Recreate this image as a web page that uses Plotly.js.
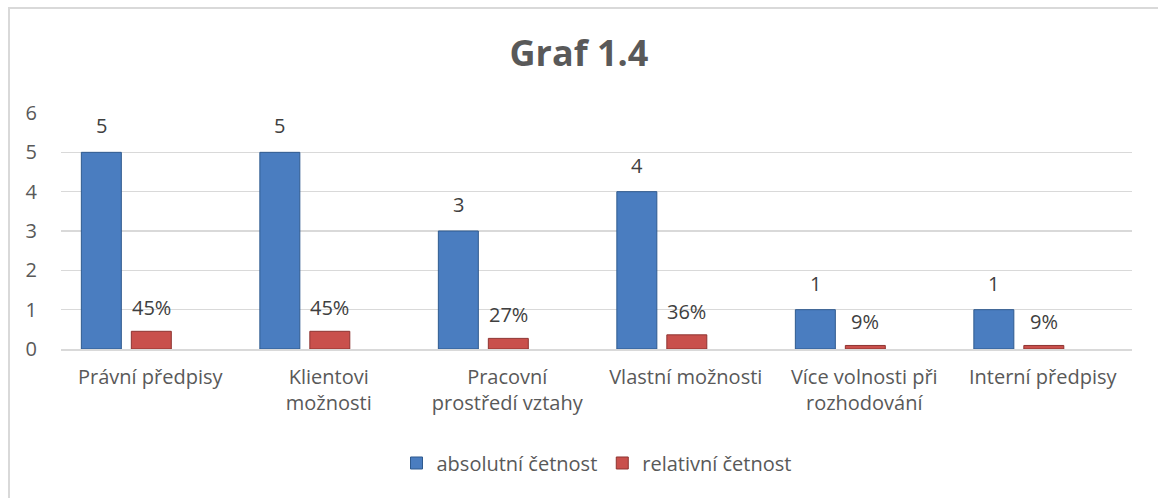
<!DOCTYPE html>
<html>
<head>
<meta charset="utf-8">
<script src="https://cdn.plot.ly/plotly-3.0.1.min.js"></script>
<style>
  html, body { margin: 0; padding: 0; background: #fff; }
  #frame { position: absolute; left: 8px; top: 7px; width: 1200px; height: 600px;
           border-left: 2px solid #d9d9d9; border-top: 2px solid #d9d9d9; pointer-events: none; z-index: 5; }
  #chart { position: absolute; left: 0; top: 0; width: 1158px; height: 498px; }
</style>
</head>
<body>
<div id="chart"></div>
<div id="frame"></div>
<script>
const categories = [
  "Právní předpisy",
  "Klientovi<br>možnosti",
  "Pracovní<br>prostředí vztahy",
  "Vlastní možnosti",
  "Více volnosti při<br>rozhodování",
  "Interní předpisy"
];
const absolutni = [5, 5, 3, 4, 1, 1];
const relativni = [0.45, 0.45, 0.27, 0.36, 0.09, 0.09];
const absLabels = ["5", "5", "3", "4", "1", "1"];
const relLabels = ["45%", "45%", "27%", "36%", "9%", "9%"];

const font = "'Open Sans', Lato, sans-serif";
const fs = 20;
const barW = 0.224;

const traces = [
  {
    type: "bar", name: "absolutní četnost", x: categories, y: absolutni,
    width: barW, offset: -0.386,
    marker: { color: "#4a7dc0", line: { color: "#2f5a8e", width: 1 } },
    hoverinfo: "skip"
  },
  {
    type: "bar", name: "relativní četnost", x: categories, y: relativni,
    width: barW, offset: -0.106,
    marker: { color: "#c9504c", line: { color: "#8e3431", width: 1 } },
    hoverinfo: "skip"
  }
];

const annotations = [];
categories.forEach((c, i) => {
  annotations.push({ x: c, y: absolutni[i], text: absLabels[i], showarrow: false,
    xshift: -49, yshift: 11, yanchor: "bottom", font: { family: font, size: fs, color: "#404040" } });
  annotations.push({ x: c, y: relativni[i], text: relLabels[i], showarrow: false,
    xshift: 1, yshift: 8, yanchor: "bottom", font: { family: font, size: fs, color: "#404040" } });
});

const layout = {
  width: 1158, height: 498,
  margin: { l: 61, r: 26, t: 113, b: 149 },
  paper_bgcolor: "rgba(0,0,0,0)", plot_bgcolor: "rgba(0,0,0,0)",
  title: { text: "<b>Graf 1.4</b>", x: 0.5, xanchor: "center", y: 0.892, yanchor: "middle",
           font: { family: font, size: 36, color: "#595959" } },
  font: { family: font, color: "#595959", size: fs },
  showlegend: true,
  legend: { orientation: "h", x: 0.5, xanchor: "center", y: -0.483, yanchor: "middle",
            font: { family: font, size: fs, color: "#595959" }, itemwidth: 30, tracegroupgap: 0 },
  xaxis: {
    type: "category", showgrid: false, showline: true, linecolor: "#d9d9d9", linewidth: 2,
    ticks: "", ticklabelstandoff: 9, tickfont: { family: font, size: fs, color: "#595959" },
    tickangle: 0, fixedrange: true
  },
  yaxis: {
    range: [0, 6], dtick: 1, showgrid: true, gridcolor: "#d9d9d9", gridwidth: 1.5,
    zeroline: false, showline: false, ticks: "", ticklabelstandoff: 23,
    tickfont: { family: font, size: fs, color: "#595959" }, fixedrange: true
  },
  annotations: annotations
};

Plotly.newPlot("chart", traces, layout, { displayModeBar: false, staticPlot: true });
</script>
</body>
</html>
